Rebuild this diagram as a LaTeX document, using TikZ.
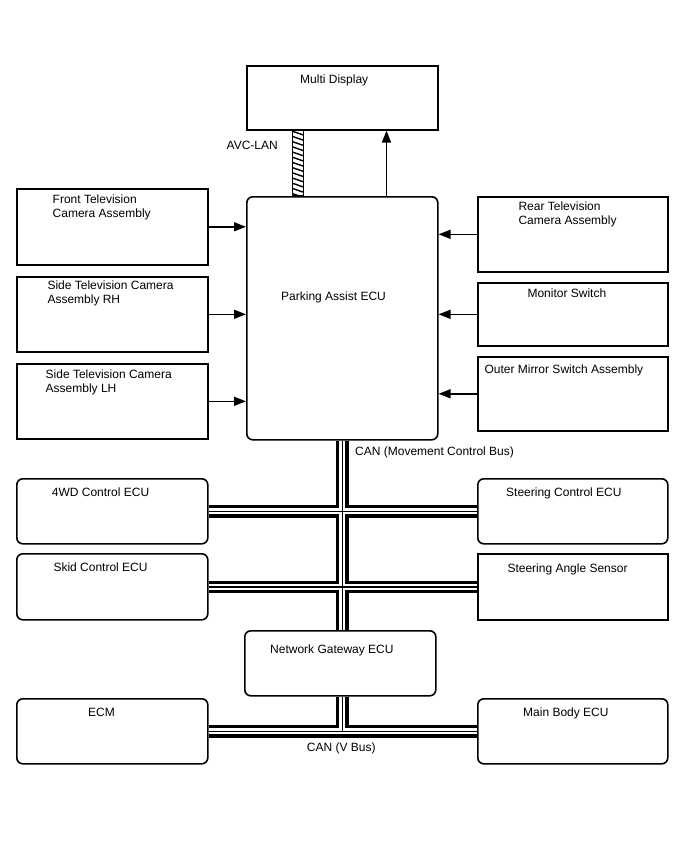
\documentclass[tikz,border=0pt]{standalone}
\usepackage{fontspec}
\setmainfont{Liberation Sans}
\usetikzlibrary{arrows.meta}
\pgfdeclarelayer{background}
\pgfsetlayers{background,main}
\tikzset{
  box/.style={draw, line width=1.6pt, fill=white, inner sep=0pt, anchor=north west},
  rbox/.style={box, rounded corners=6pt},
  lbl/.style={inner sep=0pt, anchor=base west, font=\fontsize{12}{14}\selectfont},
  arr/.style={line width=1.5pt, -{Triangle[length=12pt,width=9pt]}},
  busA/.style={line width=12.4pt, black},
  busB/.style={line width=6pt, white},
  busC/.style={line width=1.4pt, black},
}
\newcommand{\mycanpaths}[1]{%
  \draw[#1] (pa.south) -- (pa.south |- ngw.north);
  \draw[#1] (fwd.east) -- (sce.west);
  \draw[#1] (skid.east) -- (sas.west);
  \draw[#1] (pa.south |- ngw.south) -- (pa.south |- ecm.east);
  \draw[#1] (ecm.east) -- (mb.west);
}
\begin{document}
\begin{tikzpicture}[x=1pt,y=-1pt]
\useasboundingbox (0,0) rectangle (688,852);
% boxes
\node[box,  minimum width=191pt, minimum height=64pt]  (md)   at (246,65)  {};
\node[rbox, minimum width=191pt, minimum height=243pt] (pa)   at (246,196) {};
\node[box,  minimum width=191pt, minimum height=76pt]  (ftv)  at (16,188)  {};
\node[box,  minimum width=191pt, minimum height=75pt]  (srh)  at (16,276)  {};
\node[box,  minimum width=191pt, minimum height=75pt]  (slh)  at (16,363)  {};
\node[box,  minimum width=190pt, minimum height=75pt]  (rtv)  at (477,196) {};
\node[box,  minimum width=190pt, minimum height=63pt]  (ms)   at (477,282) {};
\node[box,  minimum width=190pt, minimum height=74pt]  (om)   at (477,356) {};
\node[rbox, minimum width=191pt, minimum height=65pt]  (fwd)  at (16,478)  {};
\node[rbox, minimum width=190pt, minimum height=65pt]  (sce)  at (477,478) {};
\node[rbox, minimum width=191pt, minimum height=66pt]  (skid) at (16,553)  {};
\node[box,  minimum width=190pt, minimum height=66pt]  (sas)  at (477,553) {};
\node[rbox, minimum width=191pt, minimum height=65pt]  (ngw)  at (244,630) {};
\node[rbox, minimum width=191pt, minimum height=65pt]  (ecm)  at (16,698)  {};
\node[rbox, minimum width=190pt, minimum height=65pt]  (mb)   at (477,698) {};
% texts
\node[lbl] (tmd)  at (300,83)   {Multi Display};
\node[lbl] (tpa)  at (281,300)  {Parking Assist ECU};
\node[lbl] (tf1)  at (52.5,203) {Front Television};
\node[lbl] (tf2)  at (52.5,217) {Camera Assembly};
\node[lbl] (tr1)  at (47.3,289.5) {Side Television Camera};
\node[lbl] (tr2)  at (47.3,303.8) {Assembly RH};
\node[lbl] (tl1)  at (45.5,378.3) {Side Television Camera};
\node[lbl] (tl2)  at (45.5,392.3) {Assembly LH};
\node[lbl] (trr1) at (518.3,210) {Rear Television};
\node[lbl] (trr2) at (518.3,224) {Camera Assembly};
\node[lbl] (tms)  at (527.3,297.5) {Monitor Switch};
\node[lbl] (tom)  at (484.3,373.3) {Outer Mirror Switch Assembly};
\node[lbl] (tfwd) at (51.7,496)  {4WD Control ECU};
\node[lbl] (tsce) at (506,496)   {Steering Control ECU};
\node[lbl] (tskd) at (53.3,571.7) {Skid Control ECU};
\node[lbl] (tsas) at (507.3,572.7) {Steering Angle Sensor};
\node[lbl] (tngw) at (270,653.3) {Network Gateway ECU};
\node[lbl] (tecm) at (88,716)    {ECM};
\node[lbl] (tmb)  at (523,716)   {Main Body ECU};
\node[lbl] (tavc) at (226.5,149.3) {AVC-LAN};
\node[lbl] (tcan) at (355,455)   {CAN (Movement Control Bus)};
\node[lbl] (tvb)  at (306.7,751.7) {CAN (V Bus)};
% arrows
\draw[arr] (ftv.east) -- (ftv.east -| pa.west);
\draw[arr] (srh.east) -- (srh.east -| pa.west);
\draw[arr] (slh.east) -- (slh.east -| pa.west);
\draw[arr] (rtv.west) -- (rtv.west -| pa.east);
\draw[arr] (ms.west)  -- (ms.west -| pa.east);
\draw[arr] (om.west)  -- (om.west -| pa.east);
\coordinate (upx) at (386.5,0);
\draw[arr] (pa.north -| upx) -- (md.south -| upx);
% AVC-LAN hatched link
\coordinate (hx1) at (292.7,0);
\coordinate (hx2) at (303.3,0);
\begin{scope}
  \clip (md.south -| hx1) rectangle (pa.north -| hx2);
  \foreach \yy in {120,125.2,...,205} {
    \draw[line width=1.4pt] (290,\yy) -- (306,\yy+5.5);
  }
\end{scope}
\draw[line width=1.4pt] (md.south -| hx1) rectangle (pa.north -| hx2);
% CAN buses
\begin{pgfonlayer}{background}
  \mycanpaths{busA}
  \mycanpaths{busB}
  \mycanpaths{busC}
\end{pgfonlayer}
\end{tikzpicture}
\end{document}
